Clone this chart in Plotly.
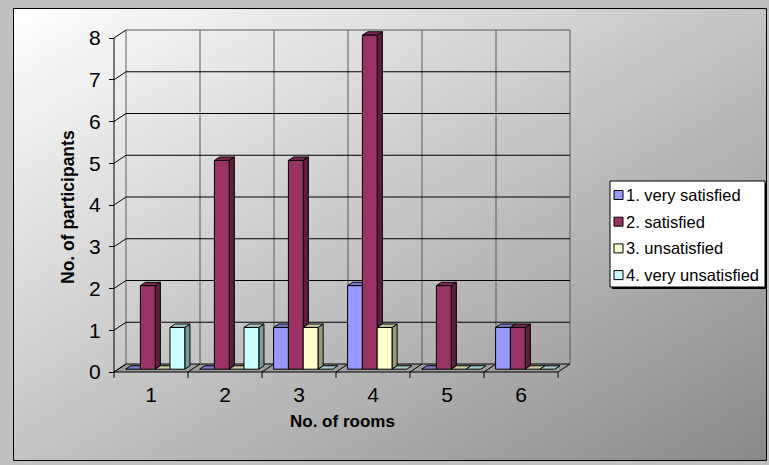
import base64
import plotly.graph_objects as go

# ---- data -------------------------------------------------------------
rooms = [1, 2, 3, 4, 5, 6]
series_names = ["1. very satisfied", "2. satisfied", "3. unsatisfied", "4. very unsatisfied"]
very_satisfied = [0, 0, 1, 2, 0, 1]
satisfied = [2, 5, 5, 8, 2, 1]
unsatisfied = [0, 0, 1, 1, 0, 0]
very_unsatisfied = [1, 1, 0, 0, 0, 0]
y_ticks = [0, 1, 2, 3, 4, 5, 6, 7, 8]

series_values = [very_satisfied, satisfied, unsatisfied, very_unsatisfied]
front_colors = ["#9999ff", "#993366", "#ffffcc", "#ccffff"]

# ---- page geometry (pixels) ------------------------------------------
W, H = 769, 465
X0, UX = 114, 74.0        # pixel of x=0.5 on the front edge, pixels per category
Y0, UY = 372, 41.75       # pixel of y=0 on the front edge, pixels per unit
DEPTH_PX = (12, 8)        # projected offset of the back wall
ZF, ZB = 0.35, 0.78       # front/back depth of the columns (fraction of floor depth)
GROUP = 0.8               # width of a group of columns (category units)
FONT = "Arial, Liberation Sans"

dxu = DEPTH_PX[0] / UX
dyu = DEPTH_PX[1] / UY
x_lo, x_hi = rooms[0] - 0.5, rooms[-1] + 0.5
y_top = max(y_ticks)


def fx(px):
    return px / W


def fy(py):
    return 1 - py / H


def P(x, y, z):
    """Oblique projection of (x, y, depth) into the data plane."""
    return x + z * dxu, y + z * dyu


def shade(hex_color, k):
    r, g, b = (int(hex_color[i:i + 2], 16) for i in (1, 3, 5))
    return "#%02x%02x%02x" % (int(r * k), int(g * k), int(b * k))


fig = go.Figure()

# ---- 3-D columns -------------------------------------------------------
n = len(series_values)
bw = GROUP / n
for s, (vals, col) in enumerate(zip(series_values, front_colors)):
    faces = {"side": ([], [], shade(col, 0.6)),
             "top": ([], [], shade(col, 0.8)),
             "front": ([], [], col)}
    for c, v in zip(rooms, vals):
        xl = c - GROUP / 2 + s * bw
        xr = xl + bw
        polys = {
            "top": [P(xl, v, ZF), P(xr, v, ZF), P(xr, v, ZB), P(xl, v, ZB)],
        }
        if v > 0:
            polys["front"] = [P(xl, 0, ZF), P(xr, 0, ZF), P(xr, v, ZF), P(xl, v, ZF)]
            polys["side"] = [P(xr, 0, ZF), P(xr, 0, ZB), P(xr, v, ZB), P(xr, v, ZF)]
        for key, pts in polys.items():
            xs, ys, _ = faces[key]
            for px_, py_ in pts + [pts[0]]:
                xs.append(px_)
                ys.append(py_)
            xs.append(None)
            ys.append(None)
    for key in ("side", "top", "front"):
        xs, ys, fc = faces[key]
        fig.add_trace(go.Scatter(
            x=xs, y=ys, mode="lines", fill="toself", fillcolor=fc,
            line=dict(color="black", width=1), hoverinfo="skip",
            showlegend=False, name=series_names[s]))

# ---- walls, floor, gridlines -------------------------------------------
shapes = []


def seg(a, b, color="black", width=1, layer="below"):
    shapes.append(dict(type="line", xref="x", yref="y", x0=a[0], y0=a[1],
                       x1=b[0], y1=b[1], line=dict(color=color, width=width),
                       layer=layer))


# floor
fl = [P(x_lo, 0, 0), P(x_hi, 0, 0), P(x_hi, 0, 1), P(x_lo, 0, 1)]
path = "M " + " L ".join("%f,%f" % p for p in fl) + " Z"
shapes.append(dict(type="path", xref="x", yref="y", path=path,
                   fillcolor="#9c9c9c", line=dict(color="black", width=1),
                   layer="below"))
bounds = [r - 0.5 for r in rooms] + [rooms[-1] + 0.5]
for b in bounds[1:-1]:
    seg(P(b, 0, 0), P(b, 0, 1))

# back wall verticals
for b in bounds:
    seg(P(b, 0, 1), P(b, y_top, 1), color="#5a5a5a")
# back wall horizontals and side wall diagonals
for t in y_ticks:
    if t > 0:
        seg(P(x_lo, t, 1), P(x_hi, t, 1), color="#5a5a5a" if t == y_top else "black")
    seg(P(x_lo, t, 0), P(x_lo, t, 1))
# front value axis line
seg(P(x_lo, 0, 0), P(x_lo, y_top, 0))
# category tick marks below the front edge
for b in bounds:
    shapes.append(dict(type="line", xref="x", yref="paper", x0=b, x1=b,
                       y0=fy(Y0), y1=fy(Y0 + 6), line=dict(color="black", width=1)))

# chart frame
shapes.append(dict(type="rect", xref="paper", yref="paper",
                   x0=fx(13.5), x1=fx(766.5), y0=fy(460.5), y1=fy(8.5),
                   line=dict(color="black", width=1), layer="below"))

# ---- legend box ----------------------------------------------------------
LX0, LX1, LY0, LY1 = 610, 765, 181, 287
shapes.append(dict(type="rect", xref="paper", yref="paper",
                   x0=fx(LX0 + 2), x1=fx(LX1 + 2), y0=fy(LY1 + 2), y1=fy(LY0 + 2),
                   fillcolor="black", line=dict(width=0), layer="above"))
shapes.append(dict(type="rect", xref="paper", yref="paper",
                   x0=fx(LX0), x1=fx(LX1), y0=fy(LY1), y1=fy(LY0),
                   fillcolor="white", line=dict(color="black", width=1), layer="above"))
annotations = []
row0, row_gap = 195, 26.7
for i, (name, col) in enumerate(zip(series_names, front_colors)):
    cy = row0 + i * row_gap
    shapes.append(dict(type="rect", xref="paper", yref="paper",
                       x0=fx(614), x1=fx(623), y0=fy(cy + 4.5), y1=fy(cy - 4.5),
                       fillcolor=col, line=dict(color="black", width=1), layer="above"))
    annotations.append(dict(xref="paper", yref="paper", x=fx(624), y=fy(cy),
                            xanchor="left", yanchor="middle", showarrow=False,
                            text=name, font=dict(family=FONT, size=16.5, color="black")))

# axis titles
annotations.append(dict(xref="paper", yref="paper", x=fx(68), y=fy(207),
                        text="<b>No. of participants</b>", textangle=-90,
                        showarrow=False, xanchor="center", yanchor="middle",
                        font=dict(family=FONT, size=17.5, color="black")))
annotations.append(dict(xref="paper", yref="paper", x=fx(342), y=fy(421),
                        text="<b>No. of rooms</b>",
                        showarrow=False, xanchor="center", yanchor="middle",
                        font=dict(family=FONT, size=17, color="black")))

# ---- diagonal background gradient -----------------------------------------
svg = ('<svg xmlns="http://www.w3.org/2000/svg" width="100" height="100" '
       'viewBox="0 0 100 100" preserveAspectRatio="none"><defs>'
       '<linearGradient id="g" x1="0" y1="0" x2="1" y2="1">'
       '<stop offset="0" stop-color="#ffffff"/><stop offset="1" stop-color="#898989"/>'
       '</linearGradient></defs><rect width="100" height="100" fill="url(#g)"/></svg>')
bg_src = "data:image/svg+xml;base64," + base64.b64encode(svg.encode()).decode()

tick_font = dict(family=FONT, size=21, color="black")
fig.update_layout(
    template="none",
    width=W, height=H, margin=dict(l=0, r=0, t=0, b=0, pad=0, autoexpand=False),
    paper_bgcolor="#c0c0c0", plot_bgcolor="rgba(0,0,0,0)",
    showlegend=False,
    xaxis=dict(domain=[fx(X0 - 2), fx(X0 + 6 * UX + DEPTH_PX[0] + 2)],
               range=[x_lo - 2 / UX, x_hi + (DEPTH_PX[0] + 2) / UX],
               tickvals=rooms, ticktext=[str(r) for r in rooms], ticks="",
               showgrid=False, zeroline=False, showline=False, automargin=False,
               anchor="free", position=fy(Y0), ticklabelstandoff=8,
               tickfont=tick_font, fixedrange=True),
    yaxis=dict(domain=[fy(Y0 + 2), fy(Y0 - y_top * UY - DEPTH_PX[1] - 2)],
               range=[-2 / UY, y_top + (DEPTH_PX[1] + 2) / UY],
               tickvals=y_ticks, ticks="outside", ticklen=5, tickcolor="black",
               showgrid=False, zeroline=False, showline=False, automargin=False,
               anchor="free", position=fx(X0), ticklabelstandoff=4,
               tickfont=tick_font, fixedrange=True),
    shapes=shapes, annotations=annotations,
    images=[dict(source=bg_src, xref="paper", yref="paper", x=fx(13.5), y=fy(8.5),
                 sizex=fx(766.5) - fx(13.5), sizey=(460.5 - 8.5) / H,
                 xanchor="left", yanchor="top", sizing="stretch", layer="below")],
)

fig.write_html("out.html")
